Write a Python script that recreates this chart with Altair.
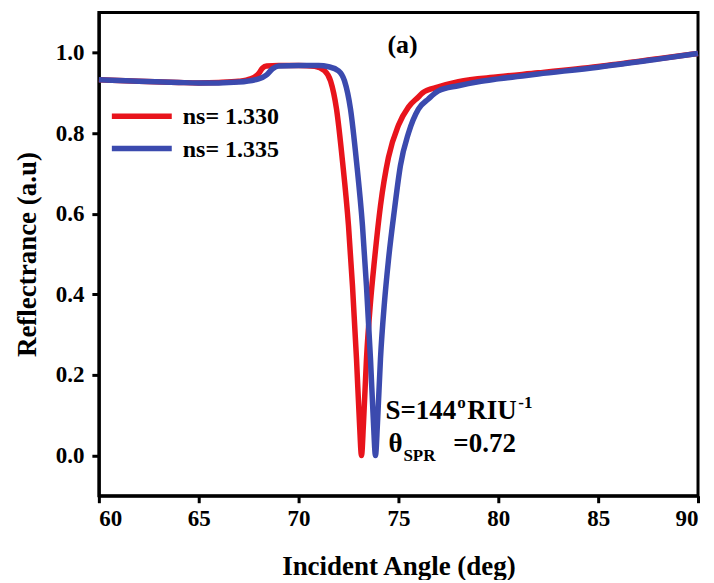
import altair as alt
import pandas as pd

# ---------------- data ----------------
series_names = ["ns= 1.330", "ns= 1.335"]
series_colors = ["#e8141c", "#3b4aae"]

red_angle = [60, 62, 64, 65, 66, 67, 67.6, 68.0, 68.2, 68.4, 69, 70, 70.8, 71.3, 71.6,
             71.9, 72.2, 72.5, 72.7, 72.9, 73.05, 73.15, 73.25, 73.4, 73.6, 73.8, 74.1,
             74.5, 75, 75.5, 76, 76.2, 77, 78, 80, 82, 85, 88, 90]
red_refl = [0.933, 0.929, 0.926, 0.925, 0.926, 0.929, 0.935, 0.948, 0.962, 0.967, 0.968,
            0.968, 0.966, 0.955, 0.93, 0.86, 0.73, 0.57, 0.42, 0.24, 0.08, 0.0, 0.08,
            0.24, 0.38, 0.485, 0.62, 0.74, 0.82, 0.865, 0.89, 0.90, 0.915, 0.928, 0.94,
            0.95, 0.966, 0.985, 0.998]

blue_angle = [60, 62, 64, 65, 66, 67, 68, 68.4, 68.7, 69, 70, 71, 71.5, 72, 72.3, 72.6,
              72.9, 73.2, 73.4, 73.6, 73.75, 73.85, 73.95, 74.1, 74.3, 74.5, 74.8, 75.1,
              75.5, 76, 76.5, 77, 78, 79, 80, 82, 85, 88, 90]
blue_refl = [0.933, 0.929, 0.926, 0.925, 0.925, 0.927, 0.935, 0.945, 0.96, 0.967, 0.968,
             0.968, 0.965, 0.955, 0.93, 0.86, 0.73, 0.57, 0.42, 0.24, 0.08, 0.0, 0.08,
             0.24, 0.38, 0.485, 0.61, 0.72, 0.80, 0.86, 0.885, 0.905, 0.918, 0.928,
             0.935, 0.947, 0.964, 0.984, 0.998]

x_ticks = [60, 65, 70, 75, 80, 85, 90]
y_ticks = [0.0, 0.2, 0.4, 0.6, 0.8, 1.0]
x_domain = [60, 90]
y_domain = [-0.1, 1.1]

# legend (drawn inside the plot, as in the reference)
legend_labels = series_names
legend_y = [0.842, 0.762]
legend_x_start = 60.65
legend_x_end = 63.65
legend_text_x = 64.2

# annotations: text, x, y, font size
anno_text = ["S=144", "o", "RIU", "-1", "θ", "SPR", "=0.72", "(a)"]
anno_x = [74.35, 77.95, 78.45, 81.0, 74.5, 75.25, 77.75, 74.45]
anno_y = [0.0916, 0.119, 0.0916, 0.119, 0.0074, -0.015, 0.0074, 1.0]
anno_size = [27, 17, 27, 17, 27, 17, 27, 26]

FONT = "Liberation Serif, Times New Roman, Times, DejaVu Serif, serif"

# ---------------- build ----------------
df_red = pd.DataFrame({"angle": red_angle, "R": red_refl, "series": series_names[0]})
df_blue = pd.DataFrame({"angle": blue_angle, "R": blue_refl, "series": series_names[1]})

xs = alt.Scale(domain=x_domain, nice=False, zero=False)
ys = alt.Scale(domain=y_domain, nice=False, zero=False)
cs = alt.Scale(domain=series_names, range=series_colors)

x_axis = alt.Axis(values=x_ticks, format="d", title="Incident Angle (deg)", grid=False,
                  titlePadding=23, labelPadding=5)
y_axis = alt.Axis(values=y_ticks, format=".1f", title="Reflectrance (a.u)", grid=False,
                  titlePadding=14, labelPadding=8)


def line_layer(df):
    return alt.Chart(df).mark_line(strokeWidth=5.5, interpolate="monotone").encode(
        x=alt.X("angle:Q", scale=xs, axis=x_axis),
        y=alt.Y("R:Q", scale=ys, axis=y_axis),
        color=alt.Color("series:N", scale=cs, legend=None),
    )


leg_df = pd.DataFrame({
    "label": legend_labels,
    "y": legend_y,
    "x1": [legend_x_start] * 2,
    "x2": [legend_x_end] * 2,
    "tx": [legend_text_x] * 2,
})

leg_rules = alt.Chart(leg_df).mark_rule(strokeWidth=5.5).encode(
    x=alt.X("x1:Q", scale=xs),
    x2="x2:Q",
    y=alt.Y("y:Q", scale=ys),
    color=alt.Color("label:N", scale=cs, legend=None),
)
leg_text = alt.Chart(leg_df).mark_text(
    align="left", baseline="middle", font=FONT, fontWeight="bold", fontSize=24,
    color="black", dy=1,
).encode(
    x=alt.X("tx:Q", scale=xs),
    y=alt.Y("y:Q", scale=ys),
    text="label:N",
)

anno_df = pd.DataFrame({"t": anno_text, "x": anno_x, "y": anno_y, "s": anno_size})
anno = alt.Chart(anno_df).mark_text(
    align="left", baseline="alphabetic", font=FONT, fontWeight="bold", color="black",
).encode(
    x=alt.X("x:Q", scale=xs),
    y=alt.Y("y:Q", scale=ys),
    text="t:N",
    size=alt.Size("s:Q", scale=None, legend=None),
)

chart = alt.layer(
    line_layer(df_red), line_layer(df_blue), leg_rules, leg_text, anno
).properties(
    width=600, height=484,
    autosize=alt.AutoSizeParams(type="none"),
    padding={"left": 91, "top": 4, "right": 8, "bottom": 84},
).configure_view(
    stroke="black", strokeWidth=3,
).configure_axis(
    labelFont=FONT, labelFontWeight="bold", labelFontSize=23, labelColor="black",
    titleFont=FONT, titleFontWeight="bold", titleFontSize=27, titleColor="black",
    domainColor="black", domainWidth=3, tickColor="black", tickWidth=3, tickSize=7,
)

chart.save("out.html", embed_options={"renderer": "svg", "actions": False})
